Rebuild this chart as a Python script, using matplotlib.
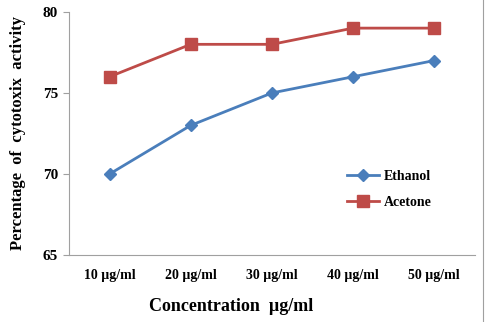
import matplotlib
matplotlib.use('Agg')
import matplotlib.pyplot as plt
from matplotlib.lines import Line2D

# === data ===
categories = ['10 µg/ml', '20 µg/ml', '30 µg/ml', '40 µg/ml', '50 µg/ml']
ethanol = [70, 73, 75, 76, 77]
acetone = [76, 78, 78, 79, 79]
y_ticks = [65, 70, 75, 80]

plt.rcParams['font.family'] = ['Liberation Serif', 'DejaVu Serif']
plt.rcParams['font.weight'] = 'bold'

fig = plt.figure(figsize=(4.86, 3.22), dpi=100)
ax = fig.add_axes([0.142, 0.208, 0.835, 0.755])

x = range(len(categories))
ax.plot(x, ethanol, color='#4A7EBB', lw=2, marker='D', ms=6, label='Ethanol')
ax.plot(x, acetone, color='#BE4B48', lw=2, marker='s', ms=8, label='Acetone')

ax.set_xlim(-0.5, len(categories) - 0.5)
ax.set_ylim(65, 80)
ax.set_yticks(y_ticks)
ax.set_xticks(list(x))
ax.set_xticklabels(categories)
ax.tick_params(axis='x', length=0, pad=10, labelsize=10)
ax.tick_params(axis='y', length=4, color='#A0A0A0', pad=4, labelsize=11)
for lbl in ax.get_xticklabels() + ax.get_yticklabels():
    lbl.set_fontweight('bold')

for side in ['top', 'right']:
    ax.spines[side].set_visible(False)
for side in ['left', 'bottom']:
    ax.spines[side].set_color('#A0A0A0')
    ax.spines[side].set_linewidth(0.8)

ax.set_xlabel('Concentration  µg/ml', fontsize=13, fontweight='bold')
ax.xaxis.set_label_coords(0.40, -0.175)
ax.set_ylabel('Percentage  of  cytotoxix  activity', fontsize=12, fontweight='bold', labelpad=12)

ax.legend(loc='upper left', bbox_to_anchor=(0.655, 0.40), frameon=False,
          prop={'weight': 'bold', 'size': 10}, handlelength=2.3, labelspacing=0.9,
          handletextpad=0.3)

# thin chart border on the right edge
fig.add_artist(Line2D([0.994, 0.994], [0, 1], transform=fig.transFigure, color='#A0A0A0', lw=0.8))

fig.savefig('out.png', dpi=100)
